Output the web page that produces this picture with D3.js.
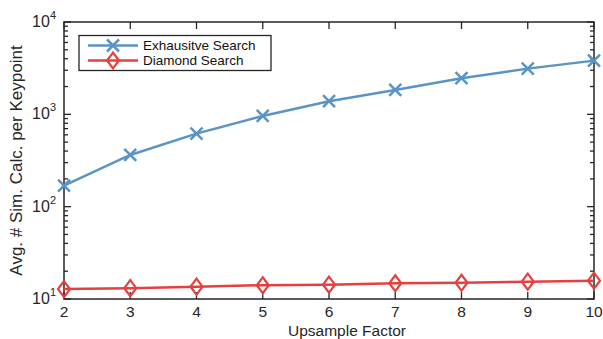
<!DOCTYPE html>
<html>
<head>
<meta charset="utf-8">
<script src="https://cdn.jsdelivr.net/npm/d3@7"></script>
<style>
  html, body { margin: 0; padding: 0; background: #fff; }
  svg { display: block; font-family: "Liberation Sans", Arial, Helvetica, sans-serif; }
</style>
</head>
<body>
<svg id="chart" width="603" height="339"></svg>
<script>
// Upsample factors on the x axis
const factors = [2, 3, 4, 5, 6, 7, 8, 9, 10];
// Average number of similarity calculations per keypoint
const exhaustive = [169, 363, 618, 961, 1387, 1838, 2460, 3127, 3816];
const diamond = [12.8, 13.1, 13.6, 14.1, 14.3, 14.8, 15.0, 15.4, 15.8];
const seriesNames = ["Exhausitve Search", "Diamond Search"];
const yDecades = [1, 2, 3, 4];

const svg = d3.select("#chart");
const m = { left: 64, right: 594, top: 22, bottom: 299 };

const x = d3.scaleLinear().domain([2, 10]).range([m.left, m.right]);
const y = d3.scaleLog().domain([10, 10000]).range([m.bottom, m.top]);

const axisColor = "#262626";
const blue = "#5A93C6";
const red = "#E5403F";

// Box around the plot
svg.append("rect")
  .attr("x", m.left).attr("y", m.top)
  .attr("width", m.right - m.left).attr("height", m.bottom - m.top)
  .attr("fill", "none").attr("stroke", axisColor).attr("stroke-width", 1.5);

// Minor and major log ticks (inside, left and right)
const yTicks = [];
for (let d = 1; d < 4; d++) {
  for (let k = 1; k < 10; k++) yTicks.push({ v: k * Math.pow(10, d), major: k === 1 });
}
yTicks.push({ v: 10000, major: true });
const tg = svg.append("g").attr("stroke", axisColor).attr("stroke-width", 1.3);
yTicks.forEach(t => {
  const len = t.major ? 7 : 4;
  const yy = y(t.v);
  tg.append("line").attr("x1", m.left).attr("x2", m.left + len).attr("y1", yy).attr("y2", yy);
  tg.append("line").attr("x1", m.right).attr("x2", m.right - len).attr("y1", yy).attr("y2", yy);
});
// X ticks (inside, bottom and top)
factors.forEach(f => {
  const xx = x(f);
  tg.append("line").attr("x1", xx).attr("x2", xx).attr("y1", m.bottom).attr("y2", m.bottom - 7);
  tg.append("line").attr("x1", xx).attr("x2", xx).attr("y1", m.top).attr("y2", m.top + 7);
});

// X tick labels
svg.append("g").selectAll("text").data(factors).join("text")
  .attr("x", d => x(d)).attr("y", m.bottom + 18)
  .attr("text-anchor", "middle").attr("font-size", 15.5).attr("fill", axisColor)
  .text(d => d);

// Y tick labels: 10 with superscript exponent
const yl = svg.append("g").selectAll("text").data(yDecades).join("text")
  .attr("x", m.left - 8).attr("y", d => y(Math.pow(10, d)) + 5)
  .attr("text-anchor", "end").attr("font-size", 16).attr("fill", axisColor);
yl.append("tspan").text("10");
yl.append("tspan").attr("dy", -8).attr("font-size", 11).text(d => d);

// Axis titles
svg.append("text")
  .attr("x", (m.left + m.right) / 2 + 18).attr("y", 335.5)
  .attr("text-anchor", "middle").attr("font-size", 15.5).attr("fill", axisColor)
  .text("Upsample Factor");
svg.append("text")
  .attr("transform", `translate(22, ${(m.top + m.bottom) / 2}) rotate(-90)`)
  .attr("text-anchor", "middle").attr("font-size", 17).attr("fill", axisColor)
  .text("Avg. # Sim. Calc. per Keypoint");

const line = d3.line().x(d => x(d[0])).y(d => y(d[1]));

function cross(g, cx, cy, color) {
  const s = 6;
  g.append("path")
    .attr("d", `M${cx - s},${cy - s}L${cx + s},${cy + s}M${cx - s},${cy + s}L${cx + s},${cy - s}`)
    .attr("stroke", color).attr("stroke-width", 2.5).attr("fill", "none");
}
function diamondMark(g, cx, cy, color) {
  const w = 6, h = 8;
  g.append("path")
    .attr("d", `M${cx},${cy - h}L${cx + w},${cy}L${cx},${cy + h}L${cx - w},${cy}Z`)
    .attr("stroke", color).attr("stroke-width", 2.2).attr("fill", "none");
}

// Exhaustive search series
const s1 = svg.append("g");
s1.append("path").datum(factors.map((f, i) => [f, exhaustive[i]]))
  .attr("d", line).attr("fill", "none").attr("stroke", blue).attr("stroke-width", 2.5);
factors.forEach((f, i) => cross(s1, x(f), y(exhaustive[i]), blue));

// Diamond search series
const s2 = svg.append("g");
s2.append("path").datum(factors.map((f, i) => [f, diamond[i]]))
  .attr("d", line).attr("fill", "none").attr("stroke", red).attr("stroke-width", 2.5);
factors.forEach((f, i) => diamondMark(s2, x(f), y(diamond[i]), red));

// Legend
const lg = svg.append("g");
lg.append("rect").attr("x", 79).attr("y", 35.5).attr("width", 192).attr("height", 35)
  .attr("fill", "#fff").attr("stroke", axisColor).attr("stroke-width", 1.3);
const colors = [blue, red];
seriesNames.forEach((name, i) => {
  const ly = 45.5 + i * 15;
  lg.append("line").attr("x1", 88).attr("x2", 138).attr("y1", ly).attr("y2", ly)
    .attr("stroke", colors[i]).attr("stroke-width", 2.5);
  if (i === 0) cross(lg, 113, ly, colors[i]); else diamondMark(lg, 113, ly, colors[i]);
  lg.append("text").attr("x", 143).attr("y", ly + 4.5)
    .attr("font-size", 13.5).attr("fill", "#111").text(name);
});
</script>
</body>
</html>
